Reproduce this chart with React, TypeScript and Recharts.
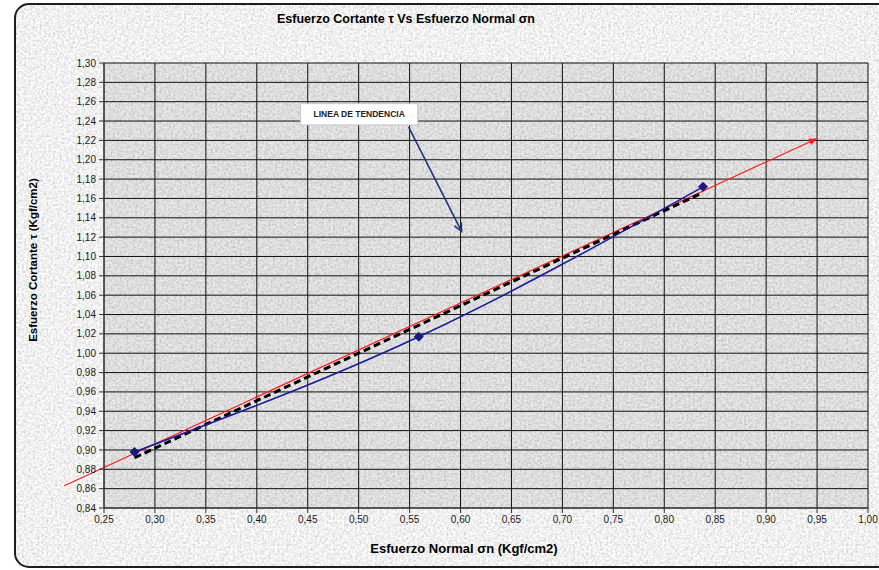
import React from 'react';
import {
  ComposedChart,
  Line,
  XAxis,
  YAxis,
  CartesianGrid,
  ReferenceLine,
  ReferenceArea,
} from 'recharts';

// ensayo: esfuerzo normal (x) vs esfuerzo cortante (y)
const sigmaN = [0.28, 0.559, 0.838];
const tau = [0.898, 1.017, 1.172];

// linea de tendencia (punteada)
const trendX = [0.28, 0.838];
const trendY = [0.892, 1.166];

// linea roja (envolvente)
const redX = [0.211, 0.95];
const redY = [0.863, 1.222];

// flecha y cuadro de la anotacion
const arrowX = [0.549, 0.601];
const arrowY = [1.234, 1.126];
const boxX = [0.443, 0.558];
const boxY = [1.236, 1.258];
const boxText = 'LINEA DE TENDENCIA';

const X_TICKS = [0.25, 0.3, 0.35, 0.4, 0.45, 0.5, 0.55, 0.6, 0.65, 0.7, 0.75, 0.8, 0.85, 0.9, 0.95, 1.0];
const Y_TICKS = [
  0.84, 0.86, 0.88, 0.9, 0.92, 0.94, 0.96, 0.98, 1.0, 1.02, 1.04, 1.06, 1.08, 1.1, 1.12, 1.14, 1.16,
  1.18, 1.2, 1.22, 1.24, 1.26, 1.28, 1.3,
];

const W = 879;
const H = 570;
const FONT = '"Liberation Sans", Arial, sans-serif';

const mainData = sigmaN.map((x, i) => ({ x, y: tau[i] }));
const trendData = trendX.map((x, i) => ({ x, y: trendY[i] }));

const fmt = (v: number) => v.toFixed(2).replace('.', ',');

const Diamond = (props: any) => {
  const { cx, cy } = props;
  if (cx == null || cy == null) return null;
  const r = 4.5;
  return (
    <polygon
      points={`${cx},${cy - r} ${cx + r},${cy} ${cx},${cy + r} ${cx - r},${cy}`}
      fill="#1a1a80"
      stroke="#1a1a80"
    />
  );
};

// linea con punta de flecha rellena al final
const RedArrow = (props: any) => {
  const { x1, y1, x2, y2 } = props;
  const a = Math.atan2(y2 - y1, x2 - x1);
  const len = 8;
  const w = 3.5;
  const bx = x2 - len * Math.cos(a);
  const by = y2 - len * Math.sin(a);
  const px = -Math.sin(a) * w;
  const py = Math.cos(a) * w;
  return (
    <g>
      <line x1={x1} y1={y1} x2={x2} y2={y2} stroke="#ff1a1a" strokeWidth={1.2} />
      <polygon points={`${x2},${y2} ${bx + px},${by + py} ${bx - px},${by - py}`} fill="#ff1a1a" />
    </g>
  );
};

// flecha abierta azul de la anotacion
const NavyArrow = (props: any) => {
  const { x1, y1, x2, y2 } = props;
  const a = Math.atan2(y2 - y1, x2 - x1);
  const len = 9;
  const spread = 0.45;
  const l1x = x2 - len * Math.cos(a - spread);
  const l1y = y2 - len * Math.sin(a - spread);
  const l2x = x2 - len * Math.cos(a + spread);
  const l2y = y2 - len * Math.sin(a + spread);
  return (
    <g stroke="#1f3578" strokeWidth={1.6} fill="none">
      <line x1={x1} y1={y1} x2={x2} y2={y2} />
      <polyline points={`${l1x},${l1y} ${x2},${y2} ${l2x},${l2y}`} />
    </g>
  );
};

export default function App() {
  return (
    <div style={{ position: 'absolute', left: 0, top: 0, width: W, height: H, overflow: 'hidden', fontFamily: FONT }}>
      <svg width={W} height={H} style={{ position: 'absolute', left: 0, top: 0 }}>
        <defs>
          <filter id="granite" x="0" y="0" width="100%" height="100%" colorInterpolationFilters="sRGB">
            <feTurbulence type="fractalNoise" baseFrequency="0.45" numOctaves="3" seed="7" />
            <feColorMatrix type="saturate" values="0" />
            <feComponentTransfer>
              <feFuncR type="linear" slope="0.45" intercept="0.72" />
              <feFuncG type="linear" slope="0.45" intercept="0.72" />
              <feFuncB type="linear" slope="0.45" intercept="0.72" />
              <feFuncA type="linear" slope="0" intercept="1" />
            </feComponentTransfer>
          </filter>
          <clipPath id="frame">
            <rect x={15} y={4} width={900} height={563} rx={14} />
          </clipPath>
        </defs>
        <rect x={15} y={4} width={900} height={563} rx={14} fill="#ededed" />
        <rect x={15} y={4} width={900} height={563} filter="url(#granite)" clipPath="url(#frame)" />
        <rect x={15} y={4} width={900} height={563} rx={14} fill="none" stroke="#1e1e1e" strokeWidth={2} />
      </svg>

      <div
        style={{
          position: 'absolute',
          left: 0,
          width: 812,
          top: 12,
          textAlign: 'center',
          fontSize: 12.5,
          fontWeight: 'bold',
          color: '#000',
          whiteSpace: 'nowrap',
        }}
      >
        Esfuerzo Cortante τ Vs Esfuerzo Normal σn
      </div>

      <div
        style={{
          position: 'absolute',
          left: 33,
          top: 260,
          transform: 'translate(-50%, -50%) rotate(-90deg)',
          fontSize: 11.5,
          fontWeight: 'bold',
          color: '#000',
          whiteSpace: 'nowrap',
        }}
      >
        Esfuerzo Cortante τ (Kgf/cm2)
      </div>

      <div
        style={{
          position: 'absolute',
          left: 0,
          width: 928,
          top: 541,
          textAlign: 'center',
          fontSize: 13,
          fontWeight: 'bold',
          color: '#000',
          whiteSpace: 'nowrap',
        }}
      >
        Esfuerzo Normal σn (Kgf/cm2)
      </div>

      <div style={{ position: 'absolute', left: 0, top: 0 }}>
        <ComposedChart width={W} height={H} margin={{ top: 63, right: 11, bottom: 32, left: 44 }}>
          <CartesianGrid stroke="#111" strokeWidth={1} fill="#000" fillOpacity={0.08} />
          <XAxis
            type="number"
            dataKey="x"
            domain={[0.25, 1.0]}
            ticks={X_TICKS}
            tickFormatter={fmt}
            allowDataOverflow
            height={30}
            tickSize={5}
            tickMargin={3}
            stroke="#333"
            tick={{ fontSize: 10, fill: '#1a1a1a', fontFamily: FONT }}
          />
          <YAxis
            type="number"
            dataKey="y"
            domain={[0.84, 1.3]}
            ticks={Y_TICKS}
            tickFormatter={fmt}
            allowDataOverflow
            width={60}
            tickSize={5}
            tickMargin={3}
            stroke="#333"
            interval={0}
            tick={{ fontSize: 10, fill: '#1a1a1a', fontFamily: FONT }}
          />
          <ReferenceArea
            x1={boxX[0]}
            x2={boxX[1]}
            y1={boxY[0]}
            y2={boxY[1]}
            fill="#ffffff"
            fillOpacity={1}
            stroke="#c8c8c8"
            ifOverflow="visible"
            label={{ value: boxText, position: 'center', fontSize: 8.5, fontWeight: 'bold', fill: '#222', fontFamily: FONT }}
          />
          <ReferenceLine
            segment={[
              { x: arrowX[0], y: arrowY[0] },
              { x: arrowX[1], y: arrowY[1] },
            ]}
            ifOverflow="visible"
            shape={NavyArrow}
          />
          <ReferenceLine
            segment={[
              { x: redX[0], y: redY[0] },
              { x: redX[1], y: redY[1] },
            ]}
            ifOverflow="visible"
            shape={RedArrow}
          />
          <Line
            data={trendData}
            dataKey="y"
            type="linear"
            stroke="#000"
            strokeWidth={3}
            strokeDasharray="7 4"
            dot={false}
            isAnimationActive={false}
          />
          <Line
            data={mainData}
            dataKey="y"
            type="monotone"
            stroke="#1a1a99"
            strokeWidth={1.6}
            dot={<Diamond />}
            isAnimationActive={false}
          />
        </ComposedChart>
      </div>
    </div>
  );
}
